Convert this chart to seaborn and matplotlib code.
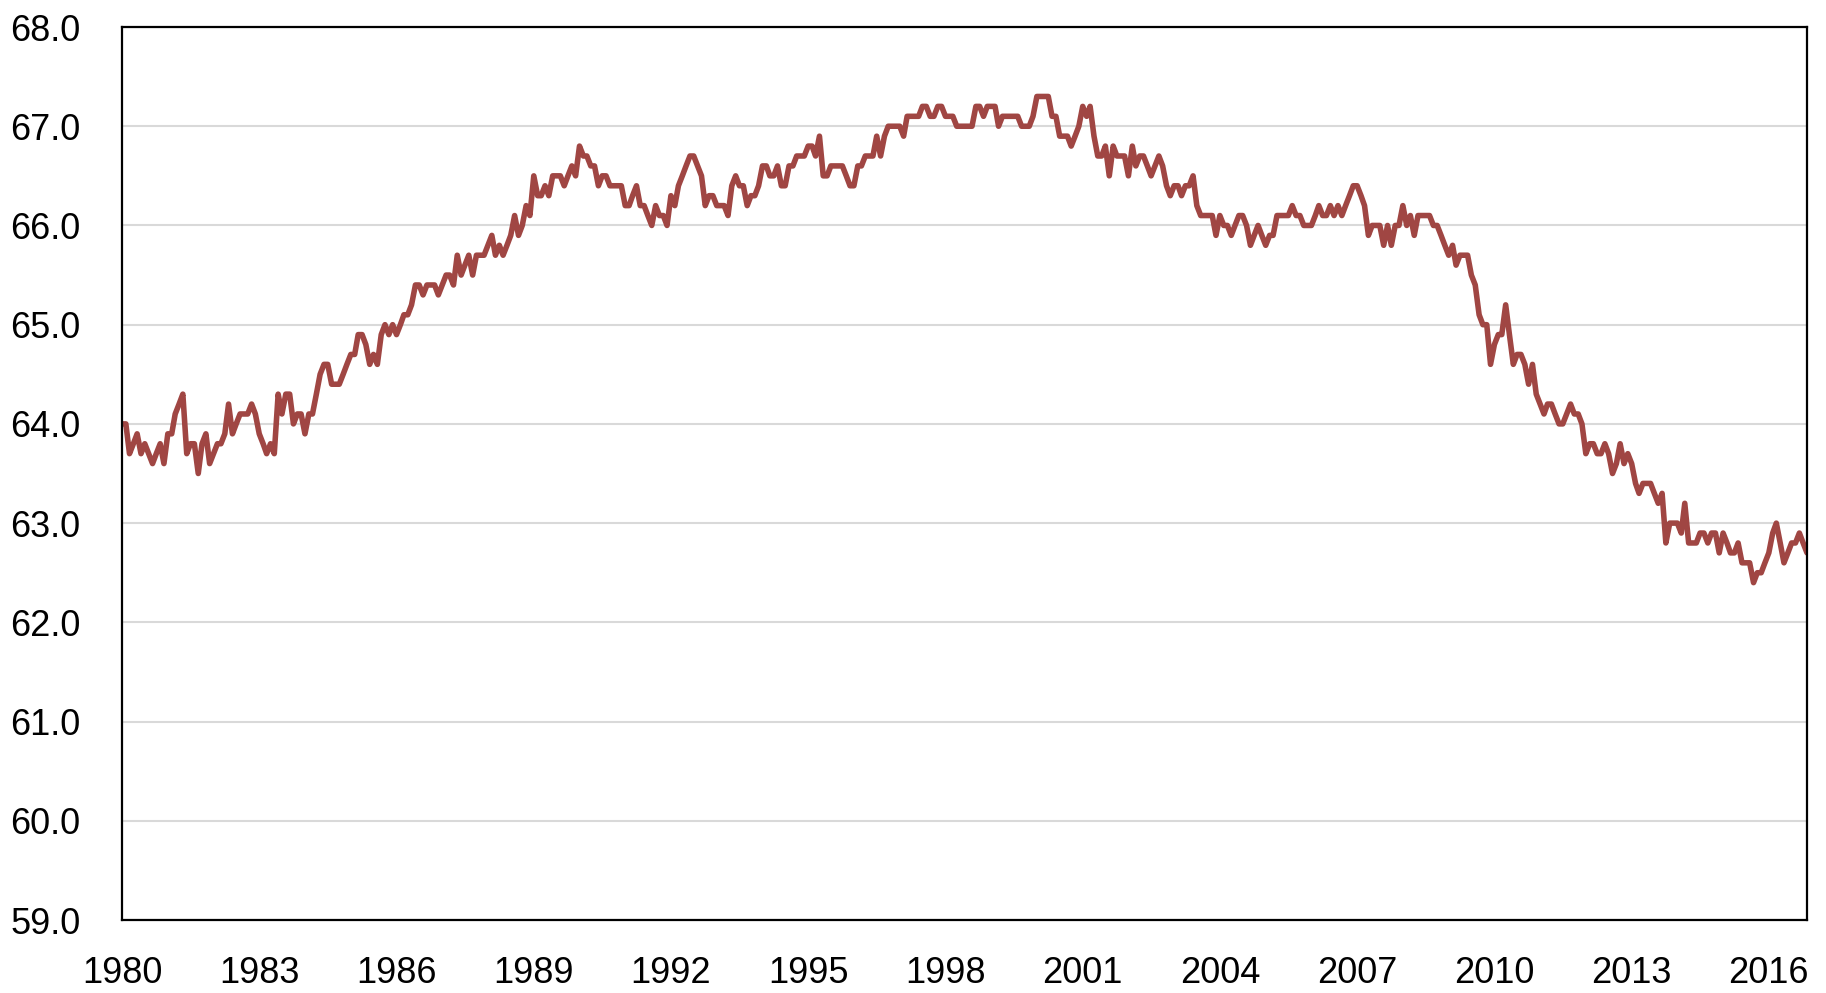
import numpy as np
import pandas as pd
import seaborn as sns
import matplotlib.pyplot as plt
from matplotlib import font_manager

# Monthly labour force participation rate (%), Jan 1980 - Nov 2016
rate_1980s = [
    64.0, 64.0, 63.7, 63.8, 63.9, 63.7, 63.8, 63.7, 63.6, 63.7, 63.8, 63.6,
    63.9, 63.9, 64.1, 64.2, 64.3, 63.7, 63.8, 63.8, 63.5, 63.8, 63.9, 63.6,
    63.7, 63.8, 63.8, 63.9, 64.2, 63.9, 64.0, 64.1, 64.1, 64.1, 64.2, 64.1,
    63.9, 63.8, 63.7, 63.8, 63.7, 64.3, 64.1, 64.3, 64.3, 64.0, 64.1, 64.1,
    63.9, 64.1, 64.1, 64.3, 64.5, 64.6, 64.6, 64.4, 64.4, 64.4, 64.5, 64.6,
    64.7, 64.7, 64.9, 64.9, 64.8, 64.6, 64.7, 64.6, 64.9, 65.0, 64.9, 65.0,
    64.9, 65.0, 65.1, 65.1, 65.2, 65.4, 65.4, 65.3, 65.4, 65.4, 65.4, 65.3,
    65.4, 65.5, 65.5, 65.4, 65.7, 65.5, 65.6, 65.7, 65.5, 65.7, 65.7, 65.7,
    65.8, 65.9, 65.7, 65.8, 65.7, 65.8, 65.9, 66.1, 65.9, 66.0, 66.2, 66.1,
    66.5, 66.3, 66.3, 66.4, 66.3, 66.5, 66.5, 66.5, 66.4, 66.5, 66.6, 66.5,
]
rate_1990s = [
    66.8, 66.7, 66.7, 66.6, 66.6, 66.4, 66.5, 66.5, 66.4, 66.4, 66.4, 66.4,
    66.2, 66.2, 66.3, 66.4, 66.2, 66.2, 66.1, 66.0, 66.2, 66.1, 66.1, 66.0,
    66.3, 66.2, 66.4, 66.5, 66.6, 66.7, 66.7, 66.6, 66.5, 66.2, 66.3, 66.3,
    66.2, 66.2, 66.2, 66.1, 66.4, 66.5, 66.4, 66.4, 66.2, 66.3, 66.3, 66.4,
    66.6, 66.6, 66.5, 66.5, 66.6, 66.4, 66.4, 66.6, 66.6, 66.7, 66.7, 66.7,
    66.8, 66.8, 66.7, 66.9, 66.5, 66.5, 66.6, 66.6, 66.6, 66.6, 66.5, 66.4,
    66.4, 66.6, 66.6, 66.7, 66.7, 66.7, 66.9, 66.7, 66.9, 67.0, 67.0, 67.0,
    67.0, 66.9, 67.1, 67.1, 67.1, 67.1, 67.2, 67.2, 67.1, 67.1, 67.2, 67.2,
    67.1, 67.1, 67.1, 67.0, 67.0, 67.0, 67.0, 67.0, 67.2, 67.2, 67.1, 67.2,
    67.2, 67.2, 67.0, 67.1, 67.1, 67.1, 67.1, 67.1, 67.0, 67.0, 67.0, 67.1,
]
rate_2000s = [
    67.3, 67.3, 67.3, 67.3, 67.1, 67.1, 66.9, 66.9, 66.9, 66.8, 66.9, 67.0,
    67.2, 67.1, 67.2, 66.9, 66.7, 66.7, 66.8, 66.5, 66.8, 66.7, 66.7, 66.7,
    66.5, 66.8, 66.6, 66.7, 66.7, 66.6, 66.5, 66.6, 66.7, 66.6, 66.4, 66.3,
    66.4, 66.4, 66.3, 66.4, 66.4, 66.5, 66.2, 66.1, 66.1, 66.1, 66.1, 65.9,
    66.1, 66.0, 66.0, 65.9, 66.0, 66.1, 66.1, 66.0, 65.8, 65.9, 66.0, 65.9,
    65.8, 65.9, 65.9, 66.1, 66.1, 66.1, 66.1, 66.2, 66.1, 66.1, 66.0, 66.0,
    66.0, 66.1, 66.2, 66.1, 66.1, 66.2, 66.1, 66.2, 66.1, 66.2, 66.3, 66.4,
    66.4, 66.3, 66.2, 65.9, 66.0, 66.0, 66.0, 65.8, 66.0, 65.8, 66.0, 66.0,
    66.2, 66.0, 66.1, 65.9, 66.1, 66.1, 66.1, 66.1, 66.0, 66.0, 65.9, 65.8,
    65.7, 65.8, 65.6, 65.7, 65.7, 65.7, 65.5, 65.4, 65.1, 65.0, 65.0, 64.6,
]
rate_2010s = [
    64.8, 64.9, 64.9, 65.2, 64.9, 64.6, 64.7, 64.7, 64.6, 64.4, 64.6, 64.3,
    64.2, 64.1, 64.2, 64.2, 64.1, 64.0, 64.0, 64.1, 64.2, 64.1, 64.1, 64.0,
    63.7, 63.8, 63.8, 63.7, 63.7, 63.8, 63.7, 63.5, 63.6, 63.8, 63.6, 63.7,
    63.6, 63.4, 63.3, 63.4, 63.4, 63.4, 63.3, 63.2, 63.3, 62.8, 63.0, 63.0,
    63.0, 62.9, 63.2, 62.8, 62.8, 62.8, 62.9, 62.9, 62.8, 62.9, 62.9, 62.7,
    62.9, 62.8, 62.7, 62.7, 62.8, 62.6, 62.6, 62.6, 62.4, 62.5, 62.5, 62.6,
    62.7, 62.9, 63.0, 62.8, 62.6, 62.7, 62.8, 62.8, 62.9, 62.8, 62.7,
]
tick_years = list(range(1980, 2017, 3))
y_ticks = [59, 60, 61, 62, 63, 64, 65, 66, 67, 68]

rate = rate_1980s + rate_1990s + rate_2000s + rate_2010s
df = pd.DataFrame({
    'month': pd.date_range('1980-01-01', periods=len(rate), freq='MS'),
    'rate': rate,
})

sns.set_style('white')
# narrow face if present, else regular Liberation Sans
installed = {f.name for f in font_manager.fontManager.ttflist}
face = 'Liberation Sans Narrow' if 'Liberation Sans Narrow' in installed else 'Liberation Sans'
plt.rcParams['font.family'] = [face, 'DejaVu Sans']
label_size = 29 if face == 'Liberation Sans Narrow' else 26

fig = plt.figure(figsize=(18.26, 9.93), dpi=100)
ax = fig.add_axes([0.0668, 0.0735, 0.9228, 0.8993])

sns.lineplot(data=df, x='month', y='rate', ax=ax, color='#A04643', lw=4.0)

ax.set_xlim(df['month'].iloc[0], df['month'].iloc[-1])
ax.set_ylim(59, 68)
ax.set_yticks(y_ticks)
ax.set_yticklabels([f'{v:.1f}' for v in y_ticks])
ax.set_xticks(pd.to_datetime([f'{y}-01-01' for y in tick_years]))
ax.set_xticklabels([str(y) for y in tick_years])
ax.set_xlabel('')
ax.set_ylabel('')

ax.yaxis.grid(True, color='#d9d9d9', lw=1.5)
ax.xaxis.grid(False)
ax.set_axisbelow(True)
for s in ax.spines.values():
    s.set_visible(True)
    s.set_color('black')
    s.set_linewidth(1.6)

ax.tick_params(axis='both', length=0, labelsize=label_size, colors='black')
ax.tick_params(axis='y', pad=30)
ax.tick_params(axis='x', pad=26)

fig.savefig('out.png', dpi=100)
